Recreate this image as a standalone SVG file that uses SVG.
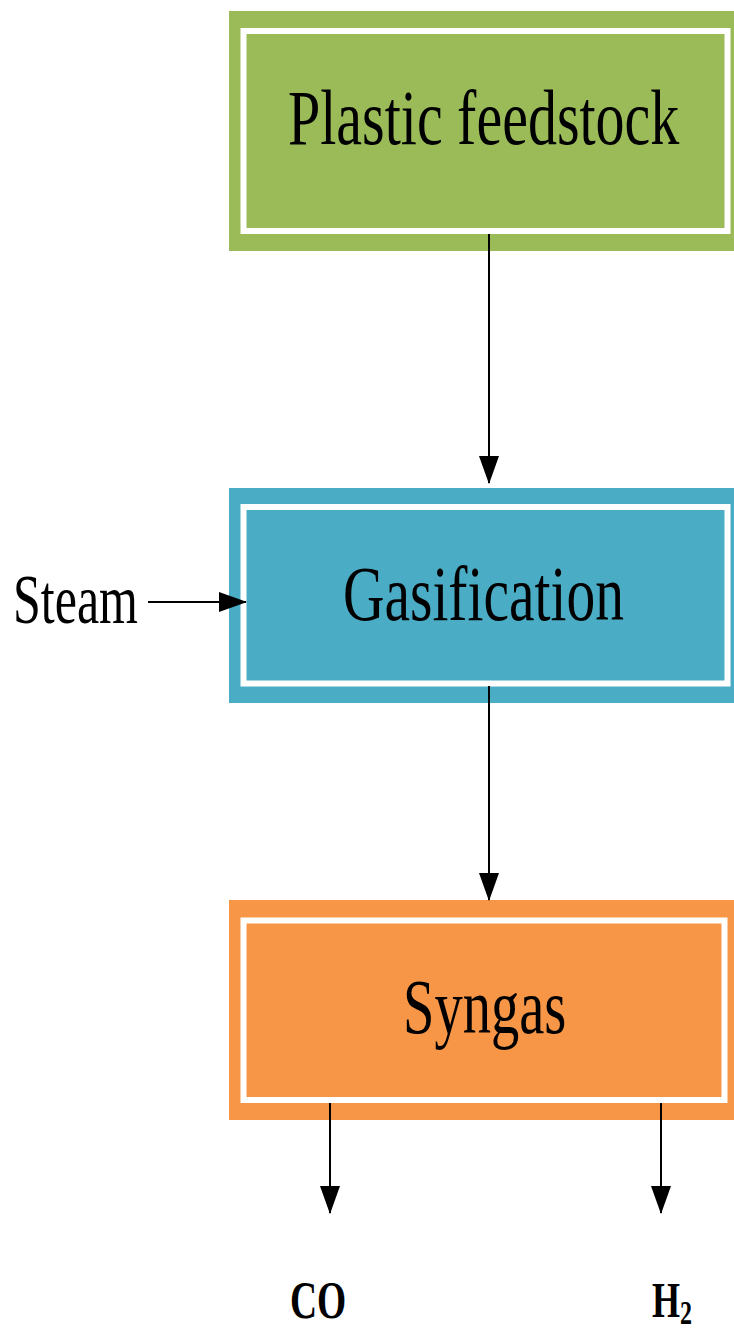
<svg xmlns="http://www.w3.org/2000/svg" width="734" height="1331" viewBox="0 0 734 1331">
<style>
.inner{fill:none;stroke:#ffffff;stroke-width:6}
.lbl{font-family:"Liberation Serif","Times New Roman",serif;fill:#000000}
.conn{stroke:#000000;stroke-width:2;fill:none}
</style>
<defs>
<marker id="ah" markerUnits="userSpaceOnUse" markerWidth="28" markerHeight="20" refX="27" refY="10" orient="auto" viewBox="0 0 28 20">
<path d="M0,0 L28,10 L0,20 Z" fill="#000000"/>
</marker>
</defs>
<rect width="734" height="1331" fill="#ffffff"/>
<g id="node-plastic">
<rect x="229" y="11" width="505" height="240" fill="#9BBB59"/>
<rect class="inner" x="243.5" y="31" width="484" height="200"/>
<text class="lbl" transform="translate(288,144) scale(1,1.345)" font-size="58">Plastic feedstock</text>
</g>
<g id="node-gasification">
<rect x="229" y="488" width="505" height="215" fill="#4BACC6"/>
<rect class="inner" x="243.5" y="507" width="484" height="176.5"/>
<text class="lbl" transform="translate(343,620) scale(1,1.357)" font-size="57.5">Gasification</text>
</g>
<g id="node-syngas">
<rect x="229" y="900" width="505" height="220" fill="#F79646"/>
<rect class="inner" x="243.5" y="920.5" width="481" height="179.5"/>
<text class="lbl" transform="translate(403,1033) scale(1,1.38)" font-size="56.5">Syngas</text>
</g>
<g id="node-steam">
<text class="lbl" transform="translate(13,623) scale(1,1.4)" font-size="50">Steam</text>
</g>
<g id="node-co">
<text class="lbl" transform="translate(290,1318) scale(1,1.39)" font-size="37.5" font-weight="bold">CO</text>
</g>
<g id="node-h2">
<text class="lbl" transform="translate(652,1317) scale(1,1.42)" font-size="36" font-weight="bold">H<tspan font-size="24" dy="5">2</tspan></text>
</g>
<g id="connectors">
<line class="conn" x1="489" y1="234" x2="489" y2="483" marker-end="url(#ah)"/>
<line class="conn" x1="489" y1="686" x2="489" y2="900" marker-end="url(#ah)"/>
<line class="conn" x1="148" y1="602" x2="246" y2="602" marker-end="url(#ah)"/>
<line class="conn" x1="330" y1="1103" x2="330" y2="1213" marker-end="url(#ah)"/>
<line class="conn" x1="661" y1="1103" x2="661" y2="1213" marker-end="url(#ah)"/>
</g>
</svg>
